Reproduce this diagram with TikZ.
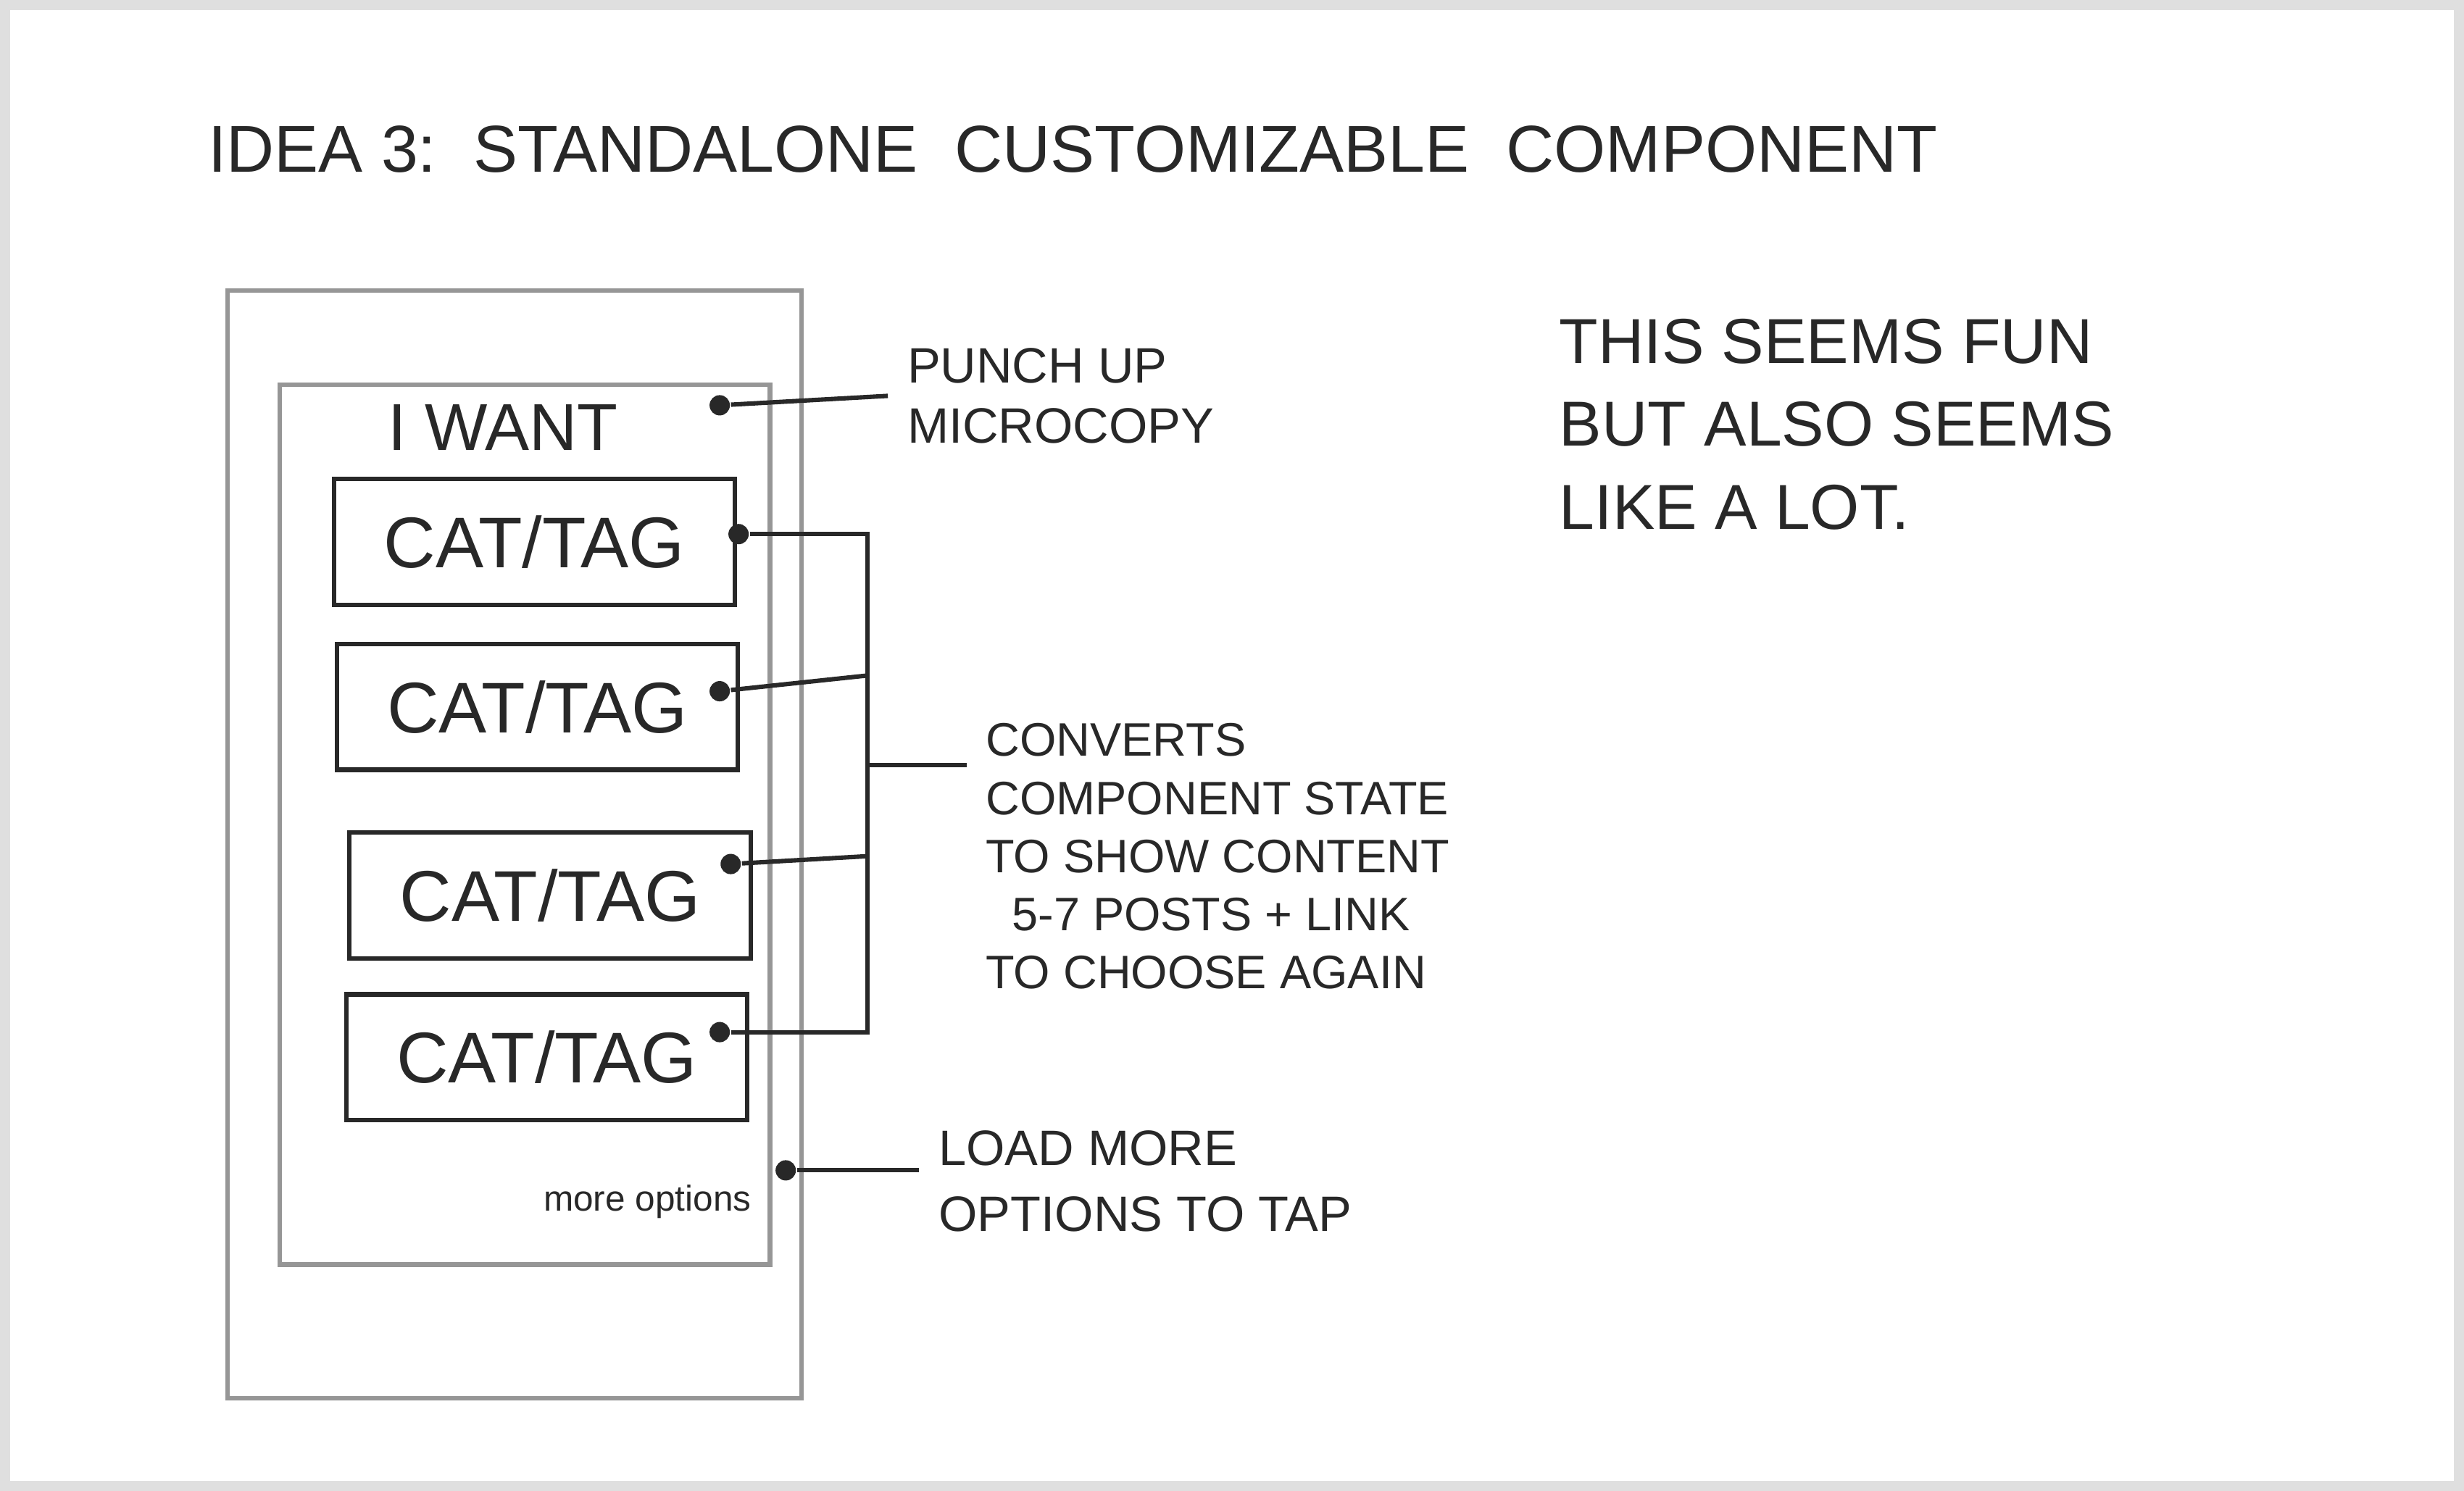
\documentclass[tikz,border=0pt]{standalone}
\usepackage{fontspec}
\setmainfont{Liberation Sans}
\usetikzlibrary{positioning}
\definecolor{pencil}{RGB}{40,40,40}
\definecolor{lightpencil}{RGB}{150,150,150}
\tikzset{
  hand/.style={text=pencil,font=\fontsize{8.5}{10.5}\selectfont,align=left,anchor=west},
  catbox/.style={draw=pencil,thick,minimum width=2.55cm,minimum height=0.8cm,font=\fontsize{13}{15}\selectfont,text=pencil},
  pin/.style={circle,fill=pencil,inner sep=1.3pt},
  lead/.style={draw=pencil,thick}
}
\begin{document}
\begin{tikzpicture}[x=0.01cm,y=-0.01cm]
  \useasboundingbox (0,0) rectangle (1568,949);
  \draw[lightpencil!30,line width=2pt] (3,3) rectangle (1565,946);
  % title
  \node[hand,font=\fontsize{12}{14}\selectfont] (title) at (120,95) {IDEA 3:\ \ STANDALONE\ \ CUSTOMIZABLE\ \ COMPONENT};
  % phone
  \draw[lightpencil,thick] (145,185) rectangle (510,890);
  \draw[lightpencil,thick] (178,245) rectangle (490,805);
  \node[text=pencil,font=\fontsize{12}{15}\selectfont] (want) at (320,272) {I WANT};
  \node[catbox] (tagA) at (340,345) {CAT/TAG};
  \node[catbox] (tagB) at (342,450) {CAT/TAG};
  \node[catbox] (tagC) at (350,570) {CAT/TAG};
  \node[catbox] (tagD) at (348,673) {CAT/TAG};
  \node[text=pencil,font=\fontsize{6.5}{8}\selectfont] (more) at (412,765) {more options};
  % pins
  \node[pin] (pW) at (458,258) {};
  \node[pin] (pA) at (470,340) {};
  \node[pin] (pB) at (458,440) {};
  \node[pin] (pC) at (465,550) {};
  \node[pin] (pD) at (458,657) {};
  \node[pin] (pM) at (500,745) {};
  % notes
  \node[hand,font=\fontsize{9}{11}\selectfont] (punch) at (565,252) {PUNCH UP\\MICROCOPY};
  \node[hand] (conv) at (615,545) {CONVERTS\\COMPONENT STATE\\TO SHOW CONTENT\\\ \ 5-7 POSTS + LINK\\TO CHOOSE AGAIN};
  \node[hand,font=\fontsize{9}{12}\selectfont] (load) at (585,752) {LOAD MORE\\OPTIONS TO TAP};
  \node[hand,font=\fontsize{11.5}{15}\selectfont] (fun) at (980,270) {THIS SEEMS FUN\\ BUT ALSO SEEMS\\ LIKE A LOT.};
  % leaders
  \coordinate (bA) at (552,340);
  \coordinate (bB) at (552,430);
  \coordinate (bC) at (552,545);
  \coordinate (bD) at (552,657);
  \coordinate (bM) at (552,487);
  \draw[lead] (pW) -- (punch.west);
  \draw[lead] (pA) -- (bA) -- (bD) -- (pD);
  \draw[lead] (pB) -- (bB);
  \draw[lead] (pC) -- (bC);
  \draw[lead] (bM) -- (conv.west |- bM);
  \draw[lead] (pM) -- (load.west |- pM);
\end{tikzpicture}
\end{document}
